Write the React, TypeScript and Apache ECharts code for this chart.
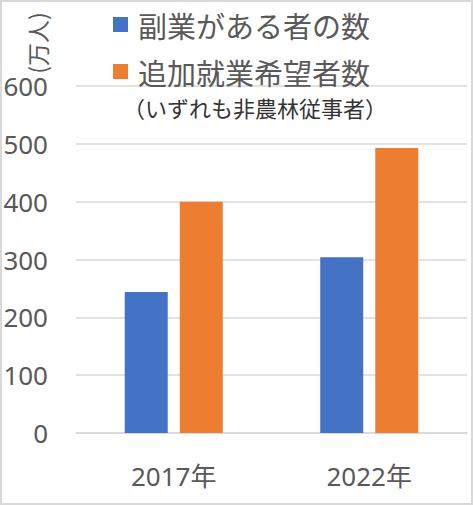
import * as echarts from "echarts";
import { useEffect, useRef } from "react";

const years = ["2017年", "2022年"];
const sideJobHolders = [244, 304];
const extraWorkSeekers = [400, 493];
const seriesNames = ["副業がある者の数", "追加就業希望者数"];
const unitLabel = "(万人)";
const noteLabel = "（いずれも非農林従事者）";

const FONT = '"Noto Sans", "Noto Sans CJK JP", sans-serif';
const CJK_FONT = '"Noto Sans CJK JP", "Noto Sans", sans-serif';

export default function App() {
  const ref = useRef<HTMLDivElement | null>(null);

  useEffect(() => {
    if (!ref.current) return;
    const chart = echarts.init(ref.current, undefined, { renderer: "svg" });
    chart.setOption({
      animation: false,
      backgroundColor: "#ffffff",
      grid: { left: 76, right: 6, top: 86, bottom: 72 },
      legend: {
        orient: "vertical",
        left: 113,
        top: 10,
        padding: 0,
        itemWidth: 15,
        itemHeight: 15,
        itemGap: 18,
        icon: "rect",
        selectedMode: false,
        data: seriesNames,
        textStyle: { color: "#595959", fontSize: 29, fontFamily: CJK_FONT, padding: [0, 0, 0, 5] }
      },
      xAxis: {
        type: "category",
        data: years,
        axisTick: { show: false },
        axisLine: { show: true, lineStyle: { color: "#d9d9d9", width: 1.5 } },
        axisLabel: { color: "#595959", fontSize: 26, fontFamily: FONT, margin: 30 }
      },
      yAxis: {
        type: "value",
        min: 0,
        max: 600,
        interval: 100,
        axisLine: { show: false },
        axisTick: { show: false },
        splitLine: { lineStyle: { color: "#d9d9d9", width: 1.5 } },
        axisLabel: { color: "#595959", fontSize: 26, fontFamily: FONT, margin: 28 }
      },
      series: [
        {
          name: seriesNames[0],
          type: "bar",
          data: sideJobHolders,
          barWidth: 43,
          barGap: "28%",
          itemStyle: { color: "#4472C4" }
        },
        {
          name: seriesNames[1],
          type: "bar",
          data: extraWorkSeekers,
          barWidth: 43,
          barGap: "28%",
          itemStyle: { color: "#ED7D31" }
        }
      ],
      graphic: [
        {
          type: "rect",
          shape: { x: 1, y: 1, width: 471, height: 503 },
          style: { fill: "none", stroke: "#d9d9d9", lineWidth: 2 },
          silent: true
        },
        {
          type: "text",
          x: 37,
          y: 43,
          rotation: Math.PI / 2,
          style: {
            text: unitLabel,
            align: "center",
            verticalAlign: "middle",
            fill: "#595959",
            font: `23px ${CJK_FONT}`
          }
        },
        {
          type: "text",
          x: 123,
          y: 107,
          style: {
            text: noteLabel,
            align: "left",
            verticalAlign: "middle",
            fill: "#333333",
            font: `22px ${CJK_FONT}`
          }
        }
      ]
    });
    return () => chart.dispose();
  }, []);

  return (
    <div
      ref={ref}
      style={{ position: "fixed", left: 0, top: 0, width: 473, height: 505 }}
    />
  );
}
